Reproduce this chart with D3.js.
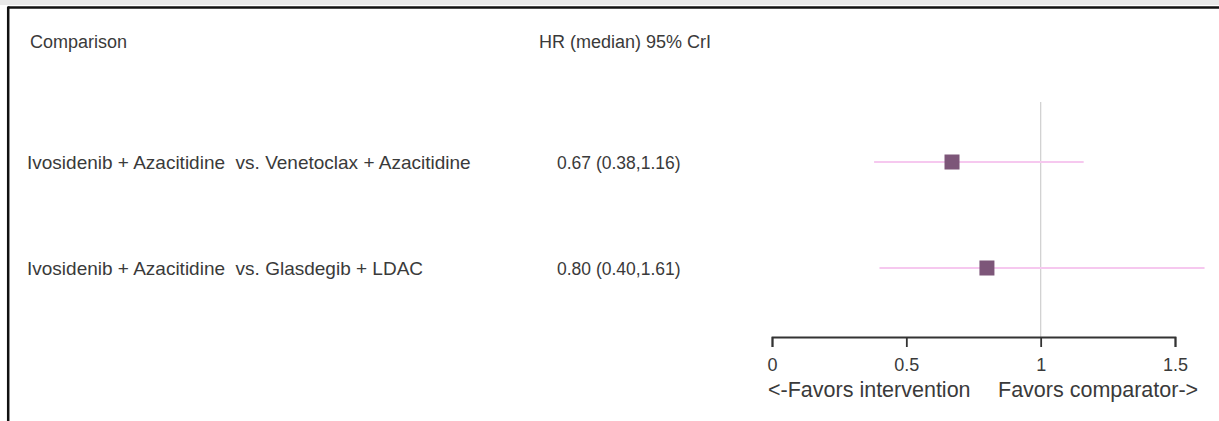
<!DOCTYPE html>
<html>
<head>
<meta charset="utf-8">
<script src="https://cdn.jsdelivr.net/npm/d3@7"></script>
<style>
  html, body { margin: 0; padding: 0; background: #fff; }
  svg { display: block; font-family: "Liberation Sans", Arial, sans-serif; }
  text { white-space: pre; }
</style>
</head>
<body>
<svg id="chart" width="1219" height="421"></svg>
<script>
// Forest plot data: hazard ratios (median) with 95% credible intervals
const comparisons = [
  "Ivosidenib + Azacitidine  vs. Venetoclax + Azacitidine",
  "Ivosidenib + Azacitidine  vs. Glasdegib + LDAC"
];
const hrMedian = [0.67, 0.80];
const hrLower = [0.38, 0.40];
const hrUpper = [1.16, 1.61];
const axisTicks = [0, 0.5, 1, 1.5];
const headers = ["Comparison", "HR (median) 95% CrI"];
const axisTitleLeft = "<-Favors intervention";
const axisTitleRight = "Favors comparator->";

const svg = d3.select("#chart");
const W = 1219, H = 421;

// frame
svg.append("rect").attr("x", 0).attr("y", 0).attr("width", W).attr("height", 5).attr("fill", "#e9e9e9");
svg.append("line").attr("x1", 8).attr("x2", W).attr("y1", 7.5).attr("y2", 7.5)
  .attr("stroke", "#111").attr("stroke-width", 2.5);
svg.append("line").attr("x1", 8.2).attr("x2", 8.2).attr("y1", 6.5).attr("y2", H)
  .attr("stroke", "#111").attr("stroke-width", 2.5);

const x = d3.scaleLinear().domain([0, 1.5]).range([772, 1175]);
const y = d3.scalePoint().domain(comparisons).range([162, 268]);

const textColor = "#3a3a3a";

// column headers
svg.append("text").attr("x", 30).attr("y", 48).text(headers[0])
  .attr("font-size", 18).attr("fill", textColor);
svg.append("text").attr("x", 539).attr("y", 48).text(headers[1])
  .attr("font-size", 18).attr("fill", textColor);

// reference line at HR = 1
svg.append("line")
  .attr("x1", x(1)).attr("x2", x(1))
  .attr("y1", 102).attr("y2", 337)
  .attr("stroke", "#d2d2d2").attr("stroke-width", 1.3);

const rows = svg.append("g").selectAll("g")
  .data(comparisons)
  .join("g");

rows.append("text")
  .attr("x", 27)
  .attr("y", d => y(d) + 7)
  .attr("font-size", 19)
  .attr("fill", textColor)
  .text(d => d);

rows.append("text")
  .attr("x", 557)
  .attr("y", d => y(d) + 7)
  .attr("font-size", 17.5)
  .attr("fill", textColor)
  .text((d, i) => `${hrMedian[i].toFixed(2)} (${hrLower[i].toFixed(2)},${hrUpper[i].toFixed(2)})`);

// credible intervals
rows.append("line")
  .attr("x1", (d, i) => x(hrLower[i]))
  .attr("x2", (d, i) => x(hrUpper[i]))
  .attr("y1", d => y(d)).attr("y2", d => y(d))
  .attr("stroke", "#f6c8ef").attr("stroke-width", 2.2);

// median markers
const box = 15;
rows.append("rect")
  .attr("x", (d, i) => x(hrMedian[i]) - box / 2)
  .attr("y", d => y(d) - box / 2)
  .attr("width", box).attr("height", box)
  .attr("fill", "#7d5679");

// x axis
const axis = d3.axisBottom(x)
  .tickValues(axisTicks)
  .tickFormat(d => d3.format("")(d))
  .tickSize(10)
  .tickPadding(11);
const gAxis = svg.append("g").attr("transform", "translate(0,337)").call(axis);
gAxis.select(".domain").attr("stroke", "#333").attr("stroke-width", 1.8);
gAxis.selectAll(".tick line").attr("stroke", "#333").attr("stroke-width", 1.8);
gAxis.selectAll(".tick text").attr("font-size", 18).attr("fill", textColor)
  .attr("font-family", "Liberation Sans, Arial, sans-serif");

svg.append("text")
  .attr("x", 768).attr("y", 397)
  .attr("font-size", 21.5)
  .attr("fill", textColor)
  .text(axisTitleLeft);
svg.append("text")
  .attr("x", 998).attr("y", 397)
  .attr("font-size", 21.5)
  .attr("fill", textColor)
  .text(axisTitleRight);
</script>
</body>
</html>
